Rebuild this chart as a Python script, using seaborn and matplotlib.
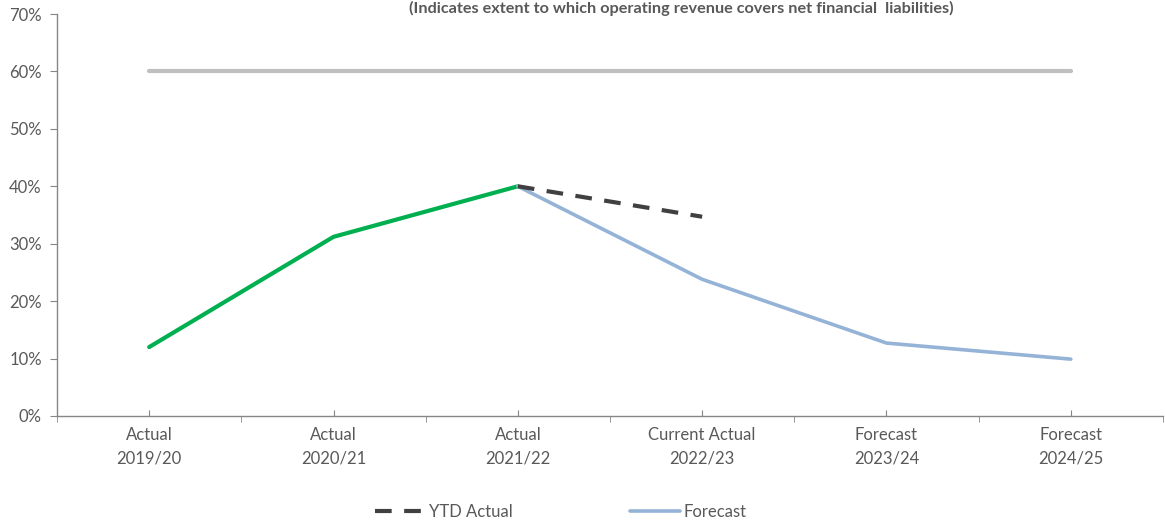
import pandas as pd
import matplotlib.pyplot as plt
import seaborn as sns
from matplotlib.ticker import PercentFormatter, FixedLocator

categories = ['Actual\n2019/20', 'Actual\n2020/21', 'Actual\n2021/22',
              'Current Actual\n2022/23', 'Forecast\n2023/24', 'Forecast\n2024/25']
target = [0.60, 0.60, 0.60, 0.60, 0.60, 0.60]
actual = [0.12, 0.312, 0.40, None, None, None]
ytd_actual = [None, None, 0.40, 0.347, None, None]
forecast = [None, None, 0.40, 0.238, 0.127, 0.099]

df = pd.DataFrame({'Year': categories, 'Target': target, 'Actual': actual,
                   'YTD Actual': ytd_actual, 'Forecast': forecast})

sns.set_style('white')
plt.rcParams['font.family'] = ['Lato', 'DejaVu Sans']
grey_txt = '#595959'
fs = 12

fig = plt.figure(figsize=(11.65, 5.23), dpi=100)
ax = fig.add_axes([57 / 1165, 107 / 523, (1163 - 57) / 1165, 402 / 523])

sns.lineplot(data=df, x='Year', y='Target', color='#BFBFBF', linewidth=3, ax=ax, sort=False)
sns.lineplot(data=df.dropna(subset=['Actual']), x='Year', y='Actual', color='#00B050',
             linewidth=3, ax=ax, sort=False)
sns.lineplot(data=df.dropna(subset=['Forecast']), x='Year', y='Forecast', color='#95B3D7',
             linewidth=2.6, ax=ax, sort=False, label='Forecast')
sns.lineplot(data=df.dropna(subset=['YTD Actual']), x='Year', y='YTD Actual', color='#404040',
             linewidth=3, ax=ax, sort=False, label='YTD Actual', dashes=False)
ax.lines[-1].set_dashes([4, 3])

ax.set_xlim(-0.5, len(categories) - 0.5)
ax.set_ylim(0, 0.70)
ax.yaxis.set_major_formatter(PercentFormatter(1, decimals=0))
ax.set_yticks([i / 10 for i in range(8)])
ax.set_xlabel('')
ax.set_ylabel('')

for s in ['top', 'right']:
    ax.spines[s].set_visible(False)
for s in ['left', 'bottom']:
    ax.spines[s].set_color('#868686')
    ax.spines[s].set_linewidth(1)

ax.tick_params(axis='y', which='major', left=True, length=5, color='#868686',
               labelsize=fs, labelcolor=grey_txt, pad=6)
ax.tick_params(axis='x', which='major', bottom=True, direction='in', length=4,
               color='#868686', labelsize=fs, labelcolor=grey_txt, pad=8)
ax.xaxis.set_minor_locator(FixedLocator([i - 0.5 for i in range(len(categories) + 1)]))
ax.tick_params(axis='x', which='minor', bottom=True, direction='out', length=4,
               color='#868686')
for t in ax.get_xticklabels():
    t.set_linespacing(1.55)

handles, labels = ax.get_legend_handles_labels()
order = [labels.index('YTD Actual'), labels.index('Forecast')]
ax.legend([handles[i] for i in order], [labels[i] for i in order], ncol=2,
          loc='center left', bbox_to_anchor=(360 / 1165, 11 / 523),
          bbox_transform=fig.transFigure, frameon=False, fontsize=fs,
          handlelength=3.0, handletextpad=0.25, columnspacing=7.0,
          labelcolor=grey_txt)

fig.text(681 / 1165, 1 - 1 / 523, '(Indicates extent to which operating revenue covers net financial  liabilities)',
         ha='center', va='top', fontsize=11.7, fontweight='bold', color=grey_txt)

fig.savefig('out.png', dpi=100)
